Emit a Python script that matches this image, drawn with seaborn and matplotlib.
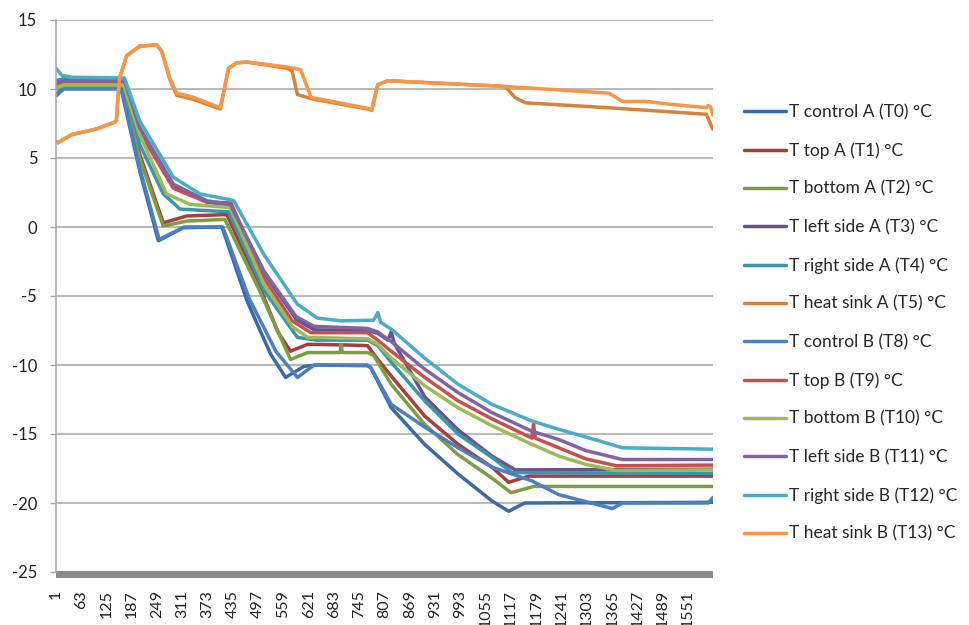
import numpy as np
import pandas as pd
import matplotlib
matplotlib.use("Agg")
import matplotlib.pyplot as plt
from matplotlib.patches import Rectangle
import seaborn as sns

# breakpoints (sample index, temperature)
t0_x = [1, 20, 160, 206, 252, 313, 408, 470, 527, 564, 609, 642, 765, 773, 823, 905, 987, 1070, 1111, 1150, 1612]
t0_y = [9.6, 10.1, 10.1, 4.1, -1.0, -0.05, 0.0, -5.4, -9.2, -10.9, -10.1, -10.0, -10.05, -10.2, -13.1, -15.75, -17.9, -19.85, -20.6, -20.0, -19.95]

t1_x = [1, 20, 163, 206, 264, 322, 420, 500, 545, 576, 618, 716, 765, 790, 823, 905, 987, 1070, 1111, 1160, 1612]
t1_y = [10.3, 10.45, 10.45, 5.3, 0.3, 0.8, 0.9, -4.3, -7.6, -9.0, -8.5, -8.55, -8.6, -9.6, -10.8, -13.7, -15.75, -17.4, -18.5, -18.05, -18.05]

t2_x = [1, 20, 164, 206, 264, 322, 415, 500, 576, 618, 698, 700, 703, 765, 780, 823, 905, 987, 1070, 1117, 1172, 1612]
t2_y = [10.0, 10.2, 10.2, 5.0, 0.07, 0.43, 0.55, -4.6, -9.6, -9.1, -9.1, -8.5, -9.1, -9.1, -9.3, -11.4, -14.3, -16.5, -18.2, -19.25, -18.8, -18.8]

t3_x = [1, 20, 169, 206, 289, 371, 428, 511, 590, 634, 765, 790, 815, 823, 830, 905, 987, 1070, 1127, 1612]
t3_y = [10.4, 10.55, 10.55, 7.1, 3.0, 1.8, 1.6, -3.3, -6.7, -7.45, -7.5, -7.7, -8.2, -7.6, -8.4, -12.3, -14.7, -16.6, -17.6, -17.55]

t4_x = [1, 20, 166, 206, 264, 305, 424, 511, 593, 640, 765, 790, 823, 905, 987, 1070, 1119, 1612]
t4_y = [10.6, 10.75, 10.75, 6.0, 2.4, 1.3, 1.1, -4.6, -8.0, -8.2, -8.2, -8.6, -9.8, -12.6, -15.0, -16.7, -17.8, -17.85]

t5_x = [1, 5, 40, 100, 145, 149, 152, 157, 174, 206, 248, 260, 280, 297, 338, 404, 424, 445, 470, 568, 580, 593, 634, 765, 775, 790, 815, 1094, 1103, 1127, 1152, 1357, 1596, 1611]
t5_y = [6.2, 6.1, 6.7, 7.1, 7.6, 7.7, 9.0, 10.8, 12.4, 13.1, 13.2, 12.75, 10.7, 9.55, 9.25, 8.55, 11.5, 11.9, 11.95, 11.5, 11.3, 9.6, 9.25, 8.55, 8.45, 10.3, 10.6, 10.2, 10.15, 9.37, 9.0, 8.64, 8.17, 7.1]

t8_x = [1, 20, 162, 206, 254, 315, 410, 475, 540, 593, 634, 765, 773, 823, 905, 987, 1070, 1168, 1234, 1300, 1365, 1390, 1600, 1612]
t8_y = [9.5, 10.0, 10.0, 4.3, -0.9, 0.0, 0.0, -5.2, -9.0, -10.9, -10.0, -10.0, -10.2, -12.85, -14.5, -16.0, -17.4, -18.4, -19.4, -19.9, -20.4, -20.0, -20.0, -19.6]

t9_x = [1, 20, 168, 206, 289, 371, 430, 511, 580, 626, 765, 790, 823, 905, 987, 1070, 1168, 1172, 1176, 1234, 1300, 1375, 1612]
t9_y = [10.4, 10.5, 10.5, 6.9, 2.8, 1.8, 1.75, -3.7, -6.8, -7.66, -7.66, -8.2, -9.0, -10.9, -12.6, -13.9, -15.3, -14.3, -15.3, -16.0, -16.8, -17.3, -17.25]

t10_x = [1, 20, 167, 206, 272, 330, 428, 511, 580, 618, 765, 790, 823, 905, 987, 1070, 1168, 1234, 1300, 1375, 1612]
t10_y = [10.1, 10.3, 10.3, 6.7, 2.4, 1.64, 1.4, -4.15, -7.2, -8.0, -8.1, -8.5, -9.5, -11.5, -13.1, -14.4, -15.75, -16.6, -17.2, -17.65, -17.6]

t11_x = [1, 20, 169, 206, 289, 371, 428, 511, 590, 634, 765, 790, 823, 905, 987, 1070, 1168, 1234, 1300, 1390, 1612]
t11_y = [10.5, 10.6, 10.6, 7.2, 3.1, 1.9, 1.65, -3.2, -6.5, -7.2, -7.35, -7.6, -8.3, -10.3, -12.0, -13.45, -14.8, -15.4, -16.2, -16.85, -16.85]

t12_x = [1, 15, 40, 169, 206, 289, 354, 424, 437, 511, 593, 642, 700, 780, 790, 797, 823, 905, 987, 1070, 1168, 1234, 1333, 1390, 1612]
t12_y = [11.5, 11.0, 10.85, 10.8, 7.7, 3.6, 2.4, 2.0, 1.9, -2.0, -5.6, -6.6, -6.8, -6.75, -6.2, -6.9, -7.4, -9.5, -11.4, -12.85, -14.06, -14.66, -15.5, -16.0, -16.1]

t13_x = [1, 5, 40, 100, 145, 149, 152, 157, 174, 206, 248, 260, 280, 297, 338, 404, 424, 445, 470, 568, 601, 626, 660, 765, 775, 790, 815, 1094, 1357, 1390, 1448, 1505, 1596, 1600, 1606, 1612]
t13_y = [6.2, 6.1, 6.7, 7.1, 7.6, 7.7, 9.0, 10.8, 12.4, 13.1, 13.2, 12.75, 10.8, 9.7, 9.4, 8.64, 11.5, 11.9, 11.95, 11.6, 11.4, 9.4, 9.2, 8.6, 8.5, 10.3, 10.6, 10.2, 9.7, 9.1, 9.1, 8.9, 8.65, 8.8, 8.7, 8.1]

names = ["T control A (T0) °C", "T top A (T1) °C", "T bottom A (T2) °C",
         "T left side A (T3) °C", "T right side A (T4) °C", "T heat sink A (T5) °C",
         "T control B (T8) °C", "T top B (T9) °C", "T bottom B (T10) °C",
         "T left side B (T11) °C", "T right side B (T12) °C", "T heat sink B (T13) °C"]
colors = ["#3a6aa6", "#a83d3a", "#7f9c45", "#6b528b", "#3b94ac", "#d4823c",
          "#4a80c2", "#c8504c", "#9bbb59", "#8064a2", "#4bacc6", "#f79646"]
xs = [t0_x, t1_x, t2_x, t3_x, t4_x, t5_x, t8_x, t9_x, t10_x, t11_x, t12_x, t13_x]
ys = [t0_y, t1_y, t2_y, t3_y, t4_y, t5_y, t8_y, t9_y, t10_y, t11_y, t12_y, t13_y]

x_ticks = list(range(1, 1612, 62))
y_ticks = [15, 10, 5, 0, -5, -10, -15, -20, -25]

rows = []
for n, xx, yy in zip(names, xs, ys):
    for a, b in zip(xx, yy):
        rows.append((n, a, b))
df = pd.DataFrame(rows, columns=["sensor", "sample", "temp"])

sns.set_theme(style="white")
plt.rcParams['font.family'] = ['Lato', 'DejaVu Sans']
plt.rcParams['axes.unicode_minus'] = False

fig = plt.figure(figsize=(9.69, 6.25), dpi=100)
ax = fig.add_axes([56 / 969, 1 - 572 / 625, 657 / 969, 552 / 625])

sns.lineplot(data=df, x="sample", y="temp", hue="sensor", hue_order=names,
             palette=dict(zip(names, colors)), estimator=None, sort=False,
             linewidth=2.5, ax=ax)

ax.set_xlim(1, 1612)
ax.set_ylim(-25, 15)
ax.set_yticks(y_ticks)
ax.set_xticks(x_ticks)
ax.set_xticklabels([str(t) for t in x_ticks])
ax.set_xlabel("")
ax.set_ylabel("")
ax.yaxis.grid(True, color="#a6a6a6", linewidth=1.1)
ax.xaxis.grid(False)
ax.set_axisbelow(True)
for s in ["top", "right", "bottom"]:
    ax.spines[s].set_visible(False)
ax.spines["left"].set_color("#a6a6a6")
ax.spines["left"].set_linewidth(1.1)
# thick grey floor under the plot
ax.add_patch(Rectangle((0, -5.5 / 552), 1, 6.5 / 552, transform=ax.transAxes,
                       clip_on=False, facecolor="#8c8c8c", edgecolor="none"))
ax.tick_params(axis="y", left=True, length=4.5, width=1, color="#a6a6a6",
               labelsize=12, labelcolor="#222222", pad=9)
ax.tick_params(axis="x", bottom=False, labelsize=11.5, labelcolor="#222222",
               labelrotation=90, pad=7)

handles, labels = ax.get_legend_handles_labels()
ax.get_legend().remove()
fig.legend(handles, labels, loc="upper left", bbox_to_anchor=(744 / 969, 1 - 104 / 625),
           frameon=False, fontsize=12.5, handlelength=2.4, handletextpad=0.2,
           labelspacing=1.27, borderpad=0, borderaxespad=0)

fig.savefig("out.png", dpi=100)
